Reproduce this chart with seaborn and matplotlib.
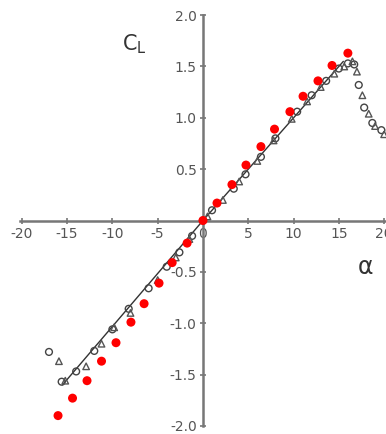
import matplotlib
matplotlib.use("Agg")
import matplotlib.pyplot as plt
import seaborn as sns
import pandas as pd

# Data
red_alpha = [-16.0, -14.4, -12.8, -11.2, -9.6, -7.95, -6.5, -4.85, -3.4, -1.75,
             0.0, 1.55, 3.2, 4.75, 6.4, 7.9, 9.6, 11.05, 12.7, 14.25, 16.0]
red_cl = [-1.90, -1.73, -1.56, -1.37, -1.19, -0.99, -0.81, -0.61, -0.41, -0.22,
          0.0, 0.17, 0.35, 0.54, 0.72, 0.89, 1.06, 1.21, 1.36, 1.51, 1.63]

circ_alpha = [-17.0, -15.6, -14.0, -12.0, -10.0, -8.2, -6.0, -4.0, -2.6, -1.2,
              0.0, 1.0, 3.4, 4.7, 6.4, 8.0, 10.4, 12.0, 13.6, 15.0, 16.0,
              16.7, 17.2, 17.8, 18.7, 19.7]
circ_cl = [-1.28, -1.57, -1.47, -1.27, -1.06, -0.86, -0.66, -0.45, -0.31, -0.15,
           0.0, 0.10, 0.31, 0.45, 0.62, 0.80, 1.06, 1.22, 1.36, 1.48, 1.53,
           1.52, 1.32, 1.10, 0.95, 0.88]

tri_alpha = [-15.9, -15.2, -12.9, -11.2, -9.8, -8.0, -5.0, -3.0, -1.5, 0.5,
             2.2, 4.0, 6.0, 7.8, 9.8, 11.5, 13.0, 14.5, 15.6, 16.5, 17.0,
             17.6, 18.3, 19.0, 20.0]
tri_cl = [-1.37, -1.56, -1.42, -1.20, -1.04, -0.90, -0.58, -0.36, -0.18, 0.04,
          0.20, 0.38, 0.58, 0.78, 0.99, 1.16, 1.30, 1.43, 1.50, 1.55, 1.45,
          1.22, 1.04, 0.92, 0.84]

line_alpha = [-15.5, 0.0, 15.5]
line_cl = [-1.60, 0.0, 1.55]

x_ticks = [-20, -15, -10, -5, 0, 5, 10, 15, 20]
x_ticklabels = ["-20", "-15", "-10", "-5", "0", "5", "10", "15", "20"]
y_ticks = [-2.0, -1.5, -1.0, -0.5, 0.5, 1.0, 1.5, 2.0]
y_ticklabels = ["-2.0", "-1.5", "-1.0", "-0.5", "0.5", "1.0", "1.5", "2.0"]

sns.set_style("white")
plt.rcParams['font.family'] = ['DejaVu Sans']

fig = plt.figure(figsize=(3.86, 4.34), dpi=100)
ax = fig.add_axes([0.0518, 0.0069, 0.948, 0.970])

sns.lineplot(x=line_alpha, y=line_cl, ax=ax, color="#333333", linewidth=1.0,
             sort=False, zorder=2)
sns.scatterplot(x=circ_alpha, y=circ_cl, ax=ax, marker="o", s=24,
                facecolor="none", edgecolor="#444444", linewidth=1.0, zorder=3)
sns.scatterplot(x=tri_alpha, y=tri_cl, ax=ax, marker="^", s=22,
                facecolor="none", edgecolor="#555555", linewidth=1.0, zorder=3)
sns.scatterplot(x=red_alpha, y=red_cl, ax=ax, marker="o", s=42,
                color="#ff0000", edgecolor="none", zorder=4)

ax.set_xlim(-20.2, 20.2)
ax.set_ylim(-2.05, 2.05)

for side in ["top", "right"]:
    ax.spines[side].set_visible(False)
ax.spines["left"].set_position(("data", 0))
ax.spines["bottom"].set_position(("data", 0))
for side in ["left", "bottom"]:
    ax.spines[side].set_color("#777777")
    ax.spines[side].set_linewidth(1.8)
ax.spines["left"].set_bounds(-2.0, 2.0)

ax.set_xticks(x_ticks)
ax.set_xticklabels(x_ticklabels)
ax.set_yticks(y_ticks)
ax.set_yticklabels(y_ticklabels)
ax.tick_params(axis="both", direction="inout", length=5, width=1.2,
               color="#777777", labelcolor="#555555", labelsize=10, pad=2)
ax.tick_params(axis="x", bottom=True)
ax.tick_params(axis="y", left=True)

ax.text(-7.6, 1.72, r"$\mathrm{C_L}$", fontsize=15, color="#333333",
        ha="center", va="center")
ax.text(18.0, -0.45, "α", fontsize=17, color="#333333", ha="center",
        va="center")

fig.savefig("out.png", dpi=100)
